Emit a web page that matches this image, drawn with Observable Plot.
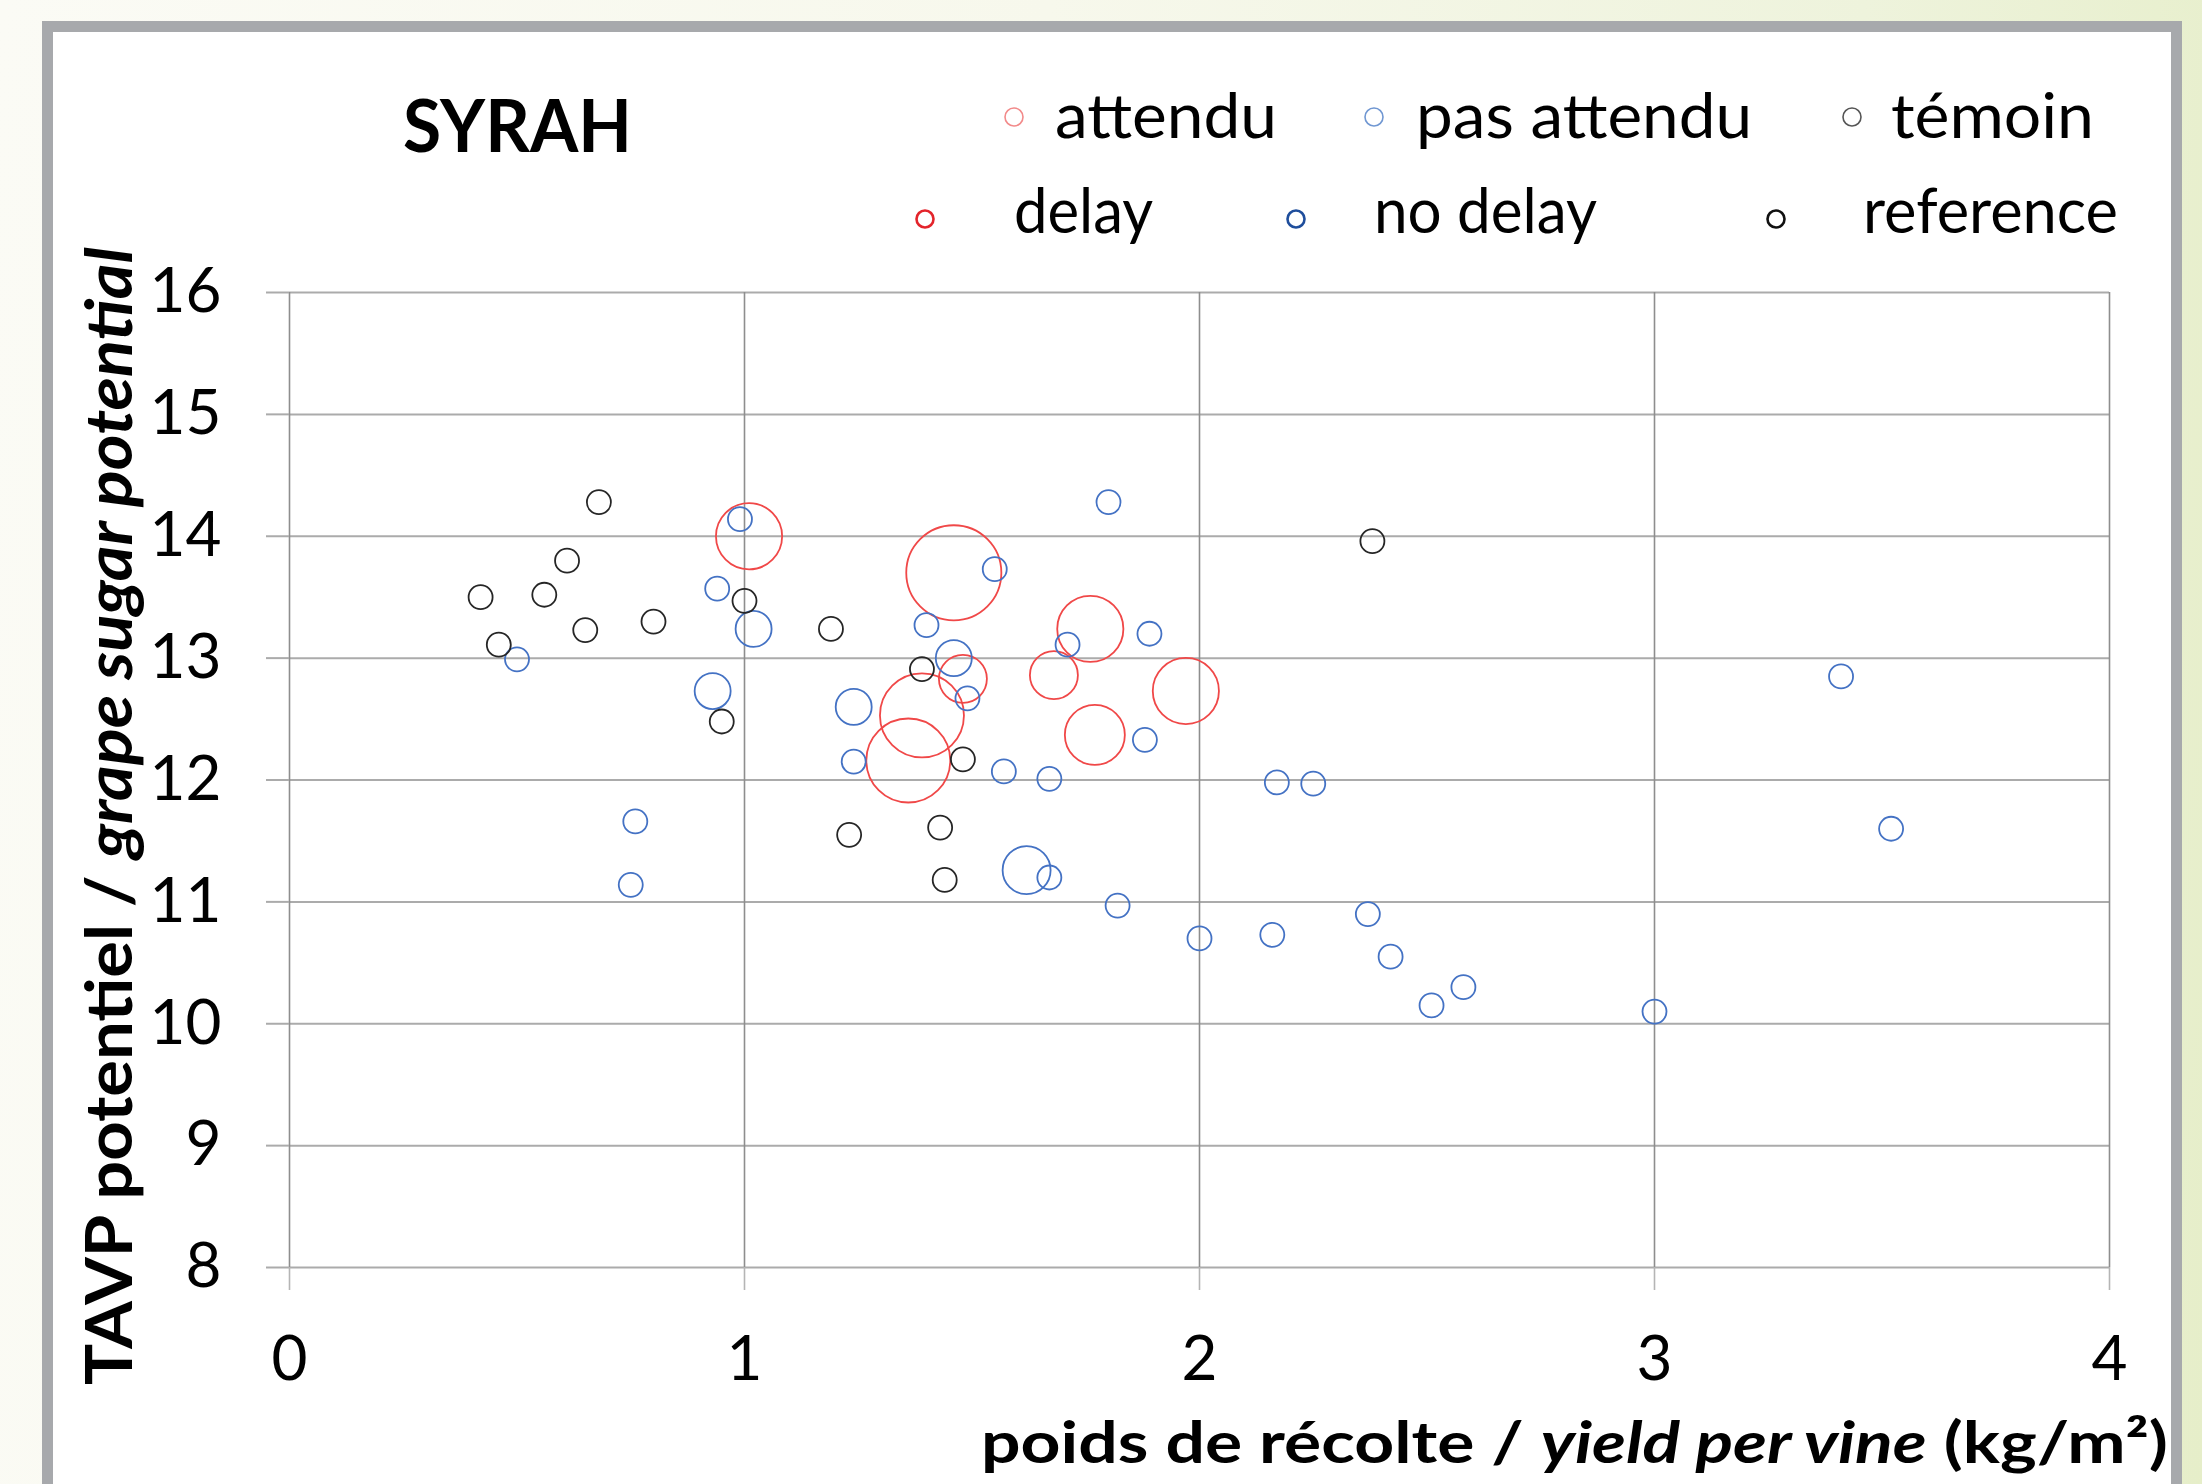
<!DOCTYPE html>
<html>
<head>
<meta charset="utf-8">
<script src="https://cdn.jsdelivr.net/npm/d3@7"></script>
<script src="https://cdn.jsdelivr.net/npm/@observablehq/plot@0.6"></script>
<style>
  html, body { margin: 0; padding: 0; width: 2202px; height: 1484px; overflow: hidden; }
  body {
    position: relative;
    background: linear-gradient(95deg, #fbfbf5 0%, #f7f8ec 45%, #eef3dc 80%, #e6eec9 100%);
    font-family: Lato, "Open Sans", "Noto Sans", sans-serif;
  }
  #frame {
    position: absolute; left: 42px; top: 21px;
    width: 2118px; height: 1600px;
    border: 11px solid #a7a9ac; background: #ffffff;
  }
  #header { position: absolute; left: 0; top: 0; pointer-events: none; z-index: 2; }
  #chart { position: absolute; left: 53px; top: 235px; z-index: 1; }
</style>
</head>
<body>
<div id="frame"></div>
<div id="chart"></div>
<svg id="header" width="2202" height="270"></svg>
<script>
// ---------- data ----------
const chartTitle = "SYRAH";
const groups = ["attendu", "pas attendu", "témoin"];
const groupsEn = ["delay", "no delay", "reference"];
const groupColors = ["#f04848", "#4472c4", "#262626"];
const legendColorsTop = ["#f28a8a", "#7097d2", "#555555"];
const legendColorsBottom = ["#e3242b", "#1f4e9c", "#111111"];

const xTicks = [0, 1, 2, 3, 4];
const yTicks = [8, 9, 10, 11, 12, 13, 14, 15, 16];

// attendu / delay
const attenduX = [1.01, 1.46, 1.76, 1.48, 1.68, 1.97, 1.39, 1.36, 1.77];
const attenduY = [14.00, 13.70, 13.24, 12.83, 12.86, 12.73, 12.53, 12.16, 12.37];
const attenduSize = [7.6, 15.7, 7.6, 4, 4, 7.6, 12.25, 12.25, 6.25];

// pas attendu / no delay
const pasAttenduX = [0.99, 0.94, 1.02, 1.40, 0.50, 0.93, 1.46, 1.49, 1.24, 1.24, 0.76, 0.75,
  1.80, 1.55, 1.89, 1.71, 1.88, 1.57, 1.67, 2.17, 2.25, 1.62, 1.67, 1.82, 2.00, 2.16,
  2.37, 2.42, 2.58, 2.51, 3.00, 3.41, 3.52];
const pasAttenduY = [14.14, 13.57, 13.24, 13.27, 12.99, 12.73, 13.00, 12.67, 12.60, 12.15, 11.66, 11.14,
  14.28, 13.73, 13.20, 13.11, 12.33, 12.07, 12.01, 11.98, 11.97, 11.26, 11.20, 10.97, 10.70, 10.73,
  10.90, 10.55, 10.30, 10.15, 10.10, 12.85, 11.60];
const pasAttenduSize = [1, 1, 2.25, 1, 1, 2.25, 2.25, 1, 2.25, 1, 1, 1,
  1, 1, 1, 1, 1, 1, 1, 1, 1, 4, 1, 1, 1, 1,
  1, 1, 1, 1, 1, 1, 1];

// témoin / reference
const temoinX = [0.68, 0.61, 0.42, 0.56, 1.00, 0.65, 0.80, 1.19, 0.46, 0.95, 1.39, 1.48, 1.23, 1.43, 1.44, 2.38];
const temoinY = [14.28, 13.80, 13.50, 13.52, 13.47, 13.23, 13.30, 13.24, 13.11, 12.48, 12.91, 12.17, 11.55, 11.61, 11.18, 13.96];
const temoinSize = [1, 1, 1, 1, 1, 1, 1, 1, 1, 1, 1, 1, 1, 1, 1, 1];

const yTitleA = "TAVP potentiel / ";
const yTitleB = "grape sugar potential";
const xTitleA = "poids de récolte / ";
const xTitleB = "yield per vine";
const xTitleC = " (kg/m²)";

// ---------- table ----------
const rows = [
  ...attenduX.map((x, i) => ({group: groups[0], x, y: attenduY[i], size: attenduSize[i]})),
  ...pasAttenduX.map((x, i) => ({group: groups[1], x, y: pasAttenduY[i], size: pasAttenduSize[i]})),
  ...temoinX.map((x, i) => ({group: groups[2], x, y: temoinY[i], size: temoinSize[i]}))
];

// ---------- chart ----------
const W = 2118, H = 1249;
const fmt = d3.format("d");
const chart = Plot.plot({
  width: W, height: H,
  marginLeft: 236, marginRight: 62, marginTop: 57, marginBottom: 217,
  x: {domain: [0, 4]},
  y: {domain: [8, 16]},
  r: {type: "sqrt", domain: [0, 1], range: [0, 12]},
  color: {domain: groups, range: groupColors},
  style: {fontFamily: "Lato, 'Open Sans', sans-serif", fontSize: "62px", background: "transparent", color: "#000", overflow: "visible"},
  marks: [
    Plot.gridY(yTicks, {stroke: "#ababab", strokeOpacity: 1, strokeWidth: 2}),
    Plot.gridX(xTicks, {stroke: "#8e8e8e", strokeOpacity: 1, strokeWidth: 1.6}),
    Plot.axisY(yTicks, {tickSize: 23, tickPadding: 45, tickFormat: fmt, stroke: "#ababab", strokeWidth: 2, fill: "#000", label: null, fontSize: 62}),
    Plot.axisX(xTicks, {tickSize: 23, tickPadding: 45, tickFormat: fmt, stroke: "#b5b5b5", strokeWidth: 1.6, fill: "#000", label: null, fontSize: 62}),
    Plot.dot(rows, {x: "x", y: "y", r: "size", stroke: "group", strokeWidth: 1.8})
  ]
});
document.getElementById("chart").appendChild(chart);

// axis titles (mixed bold / bold italic)
const svg = d3.select(chart);
const yt = svg.append("text")
  .attr("transform", "translate(79,1150) rotate(-90)")
  .attr("text-anchor", "start")
  .attr("font-family", "Lato, 'Open Sans', sans-serif")
  .attr("font-weight", "bold").attr("font-size", 65).attr("fill", "#000")
  .attr("textLength", 1138).attr("lengthAdjust", "spacingAndGlyphs");
yt.append("tspan").text(yTitleA);
yt.append("tspan").attr("font-style", "italic").text(yTitleB);

const xt = svg.append("text")
  .attr("x", 928).attr("y", 1228)
  .attr("text-anchor", "start")
  .attr("font-family", "Lato, 'Open Sans', sans-serif")
  .attr("font-weight", "bold").attr("font-size", 58).attr("fill", "#000")
  .attr("textLength", 1187).attr("lengthAdjust", "spacingAndGlyphs");
xt.append("tspan").text(xTitleA);
xt.append("tspan").attr("font-style", "italic").text(xTitleB);
xt.append("tspan").text(xTitleC);

// ---------- header: title + legend ----------
const header = d3.select("#header").attr("font-family", "Lato, 'Open Sans', sans-serif");
header.append("text").attr("x", 403).attr("y", 152)
  .attr("font-weight", "bold").attr("font-size", 72).attr("fill", "#000")
  .attr("textLength", 229).attr("lengthAdjust", "spacingAndGlyphs")
  .text(chartTitle);

const topRow = [
  {cx: 1014, tx: 1055, w: 222},
  {cx: 1374, tx: 1416, w: 336},
  {cx: 1852, tx: 1891, w: 203}
];
const bottomRow = [
  {cx: 925, tx: 1014, w: 139},
  {cx: 1296, tx: 1374, w: 223},
  {cx: 1776, tx: 1863, w: 255}
];
groups.forEach((g, i) => {
  header.append("circle").attr("cx", topRow[i].cx).attr("cy", 117).attr("r", 9)
    .attr("fill", "none").attr("stroke", legendColorsTop[i]).attr("stroke-width", 1.6);
  header.append("text").attr("x", topRow[i].tx).attr("y", 138)
    .attr("font-size", 62).attr("fill", "#000")
    .attr("textLength", topRow[i].w).attr("lengthAdjust", "spacingAndGlyphs").text(g);
});
groupsEn.forEach((g, i) => {
  header.append("circle").attr("cx", bottomRow[i].cx).attr("cy", 219).attr("r", 8.5)
    .attr("fill", "none").attr("stroke", legendColorsBottom[i]).attr("stroke-width", 2.6);
  header.append("text").attr("x", bottomRow[i].tx).attr("y", 233)
    .attr("font-size", 62).attr("fill", "#000")
    .attr("textLength", bottomRow[i].w).attr("lengthAdjust", "spacingAndGlyphs").text(g);
});
</script>
</body>
</html>
